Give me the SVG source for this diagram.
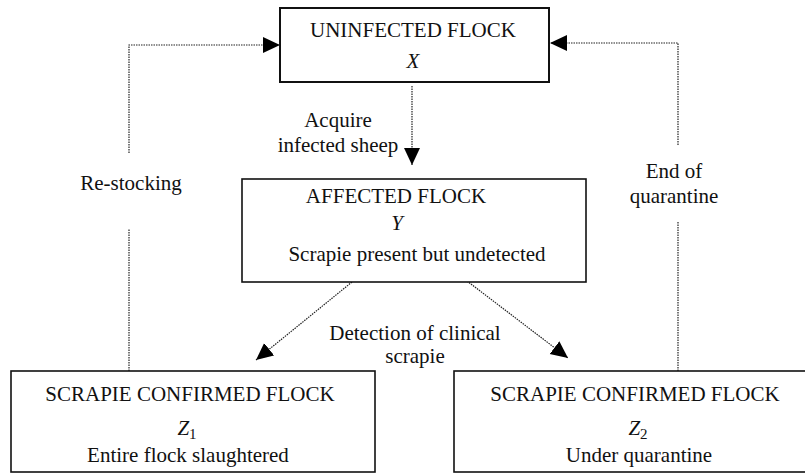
<svg xmlns="http://www.w3.org/2000/svg" width="805" height="473" viewBox="0 0 805 473">
<style>
.t{font-family:"Liberation Serif","Times New Roman",serif;font-size:21px;fill:#111;text-anchor:middle}
.i{font-style:italic}
.box{fill:#fff;stroke:#111;stroke-width:1.6}
.c{fill:none;stroke:#222;stroke-width:1.2;stroke-dasharray:1.5 1}
</style>
<defs>
<marker id="ah" markerUnits="userSpaceOnUse" markerWidth="18" markerHeight="17" refX="17" refY="8" orient="auto">
<path d="M0,0 L17,8 L0,16 z" fill="#000"/>
</marker>
</defs>
<rect width="805" height="473" fill="#fff"/>
<g id="connectors">
<path class="c" d="M129,371 V229"/>
<path class="c" d="M129,153 V45 H280" marker-end="url(#ah)"/>
<path class="c" d="M678,371 V222"/>
<path class="c" d="M678,145 V43 H550" marker-end="url(#ah)"/>
<path class="c" d="M412,86 V165" marker-end="url(#ah)"/>
<path class="c" d="M352,282 L256,360" marker-end="url(#ah)"/>
<path class="c" d="M467,281 L568,358" marker-end="url(#ah)"/>
<text class="t" x="338" y="127">Acquire</text>
<text class="t" x="338" y="152">infected sheep</text>
<text class="t" x="131" y="190">Re-stocking</text>
<text class="t" x="674" y="178">End of</text>
<text class="t" x="674" y="203">quarantine</text>
<text class="t" x="415" y="340">Detection of clinical</text>
<text class="t" x="415" y="363">scrapie</text>
</g>
<g id="uninfected">
<rect class="box" x="280" y="8" width="269" height="74" style="stroke-width:2"/>
<text class="t" x="413" y="37">UNINFECTED FLOCK</text>
<text class="t i" x="413" y="68">X</text>
</g>
<g id="affected">
<rect class="box" x="242" y="179" width="344" height="103"/>
<text class="t" x="396" y="203">AFFECTED FLOCK</text>
<text class="t i" x="397" y="230">Y</text>
<text class="t" x="417" y="261">Scrapie present but undetected</text>
</g>
<g id="z1">
<rect class="box" x="11" y="371" width="364" height="101"/>
<text class="t" x="190" y="401">SCRAPIE CONFIRMED FLOCK</text>
<text class="t" x="187" y="435"><tspan class="i">Z</tspan><tspan font-size="15" dy="4">1</tspan></text>
<text class="t" x="188" y="462">Entire flock slaughtered</text>
</g>
<g id="z2">
<rect class="box" x="454" y="371" width="360" height="101"/>
<text class="t" x="635" y="401">SCRAPIE CONFIRMED FLOCK</text>
<text class="t" x="638" y="435"><tspan class="i">Z</tspan><tspan font-size="15" dy="4">2</tspan></text>
<text class="t" x="639" y="462">Under quarantine</text>
</g>
</svg>
